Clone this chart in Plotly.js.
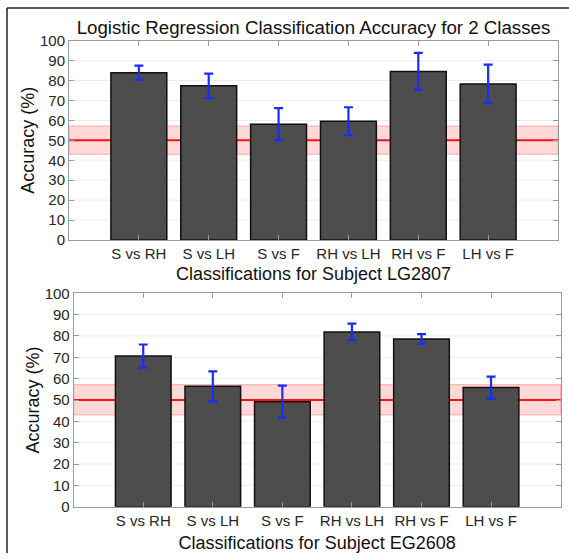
<!DOCTYPE html>
<html><head><meta charset="utf-8">
<script src="https://cdn.plot.ly/plotly-3.0.1.min.js"></script>
<style>html,body{margin:0;padding:0;background:#fff}</style>
</head><body><div id="chart" style="width:569px;height:559px"></div>
<script>
const categories = ['S vs RH','S vs LH','S vs F','RH vs LH','RH vs F','LH vs F'];
const accLG2807 = [83.9, 77.4, 58.1, 59.6, 84.6, 78.3];
const errLG2807 = [3.6, 6.1, 8.1, 7.0, 9.3, 9.7];
const accEG2608 = [70.6, 56.4, 49.2, 81.9, 78.6, 55.8];
const errEG2608 = [5.4, 7.0, 7.5, 3.9, 2.3, 5.2];
const chanceLevel = 50;
const chanceBand = [43.0, 57.2];
const yTicks = [0,10,20,30,40,50,60,70,80,90,100];

const W = 569, H = 559;
const px = v => v / W;
const py = v => 1 - v / H;
const FONT = 'Liberation Sans, Arial, sans-serif';
const TXT = '#262626';
const positions = categories.map((c, i) => i + 1);
const xRange = [0, categories.length + 1];

function barTrace(vals, errs, xa, ya) {
  return {
    type: 'bar', x: positions, y: vals, xaxis: xa, yaxis: ya,
    width: 0.8,
    marker: {color: '#4d4d4d', line: {color: '#111', width: 1.5}},
    error_y: {type: 'data', array: errs, visible: true, color: '#1a2bff', thickness: 2.2, width: 4.5},
    showlegend: false, hoverinfo: 'y'
  };
}

function xAxis(domain, anchor, title, standoff) {
  return {
    domain: domain, anchor: anchor, range: xRange,
    tickvals: positions, ticktext: categories,
    showline: true, linecolor: '#9a9a9a', linewidth: 1, mirror: 'ticks',
    ticks: 'inside', ticklen: 5, tickcolor: '#9a9a9a', showgrid: false, zeroline: false,
    tickfont: {family: FONT, size: 15, color: TXT},
    title: {text: title, font: {family: FONT, size: 18, color: '#111'}, standoff: standoff},
    fixedrange: true
  };
}
function yAxis(domain, anchor, title, standoff) {
  return {
    domain: domain, anchor: anchor, range: [0, 100], tickvals: yTicks,
    showline: true, linecolor: '#9a9a9a', linewidth: 1, mirror: 'ticks',
    ticks: 'inside', ticklen: 5, tickcolor: '#9a9a9a',
    showgrid: false, zeroline: false,
    tickfont: {family: FONT, size: 15, color: TXT},
    title: {text: title, font: {family: FONT, size: 18, color: '#111'}, standoff: standoff},
    fixedrange: true
  };
}

// grid lines, chance band and chance line drawn beneath the bars
function underlayShapes(xa, ya) {
  const grid = yTicks.slice(1, -1).map(v => ({
    type: 'line', xref: xa + ' domain', yref: ya, x0: 0, x1: 1, y0: v, y1: v,
    line: {color: '#ebebeb', width: 1}, layer: 'below'
  }));
  return grid.concat([
    {type: 'rect', xref: xa + ' domain', yref: ya, x0: 0, x1: 1, y0: chanceBand[0], y1: chanceBand[1],
     fillcolor: 'rgba(255,60,60,0.2)', line: {color: 'rgba(255,120,120,0.55)', width: 1}, layer: 'below'},
    {type: 'line', xref: xa + ' domain', yref: ya, x0: 0, x1: 1, y0: chanceLevel, y1: chanceLevel,
     line: {color: '#ff1010', width: 2}, layer: 'below'}
  ]);
}

const frameL = px(7), frameR = 1, frameT = py(8), frameB = py(553);
const frame = [
  {type: 'line', xref: 'paper', yref: 'paper', x0: frameL, x1: frameR, y0: frameT, y1: frameT, line: {color: '#222', width: 1.5}},
  {type: 'line', xref: 'paper', yref: 'paper', x0: frameL, x1: frameL, y0: frameT, y1: frameB, line: {color: '#222', width: 1.5}}
];

const data = [
  barTrace(accLG2807, errLG2807, 'x', 'y'),
  barTrace(accEG2608, errEG2608, 'x2', 'y2')
];

const layout = {
  width: W, height: H,
  margin: {l: 0, r: 0, t: 0, b: 0},
  paper_bgcolor: '#fff', plot_bgcolor: '#fff',
  font: {family: FONT, color: TXT},
  title: {text: 'Logistic Regression Classification Accuracy for 2 Classes',
          font: {family: FONT, size: 18.7, color: '#111'},
          x: px(313.5), xanchor: 'center', xref: 'paper', y: py(27), yanchor: 'middle', yref: 'paper'},
  xaxis: xAxis([px(69), px(558)], 'y', 'Classifications for Subject LG2807', 6),
  yaxis: yAxis([py(240), py(40.7)], 'x', 'Accuracy (%)', 0),
  xaxis2: xAxis([px(73.7), px(560.6)], 'y2', 'Classifications for Subject EG2608', 8),
  yaxis2: yAxis([py(506.7), py(293.3)], 'x2', 'Accuracy (%)', 0),
  shapes: underlayShapes('x', 'y').concat(underlayShapes('x2', 'y2')).concat(frame),
  bargap: 0.2
};

Plotly.newPlot('chart', data, layout, {displayModeBar: false, staticPlot: true});
</script></body></html>
